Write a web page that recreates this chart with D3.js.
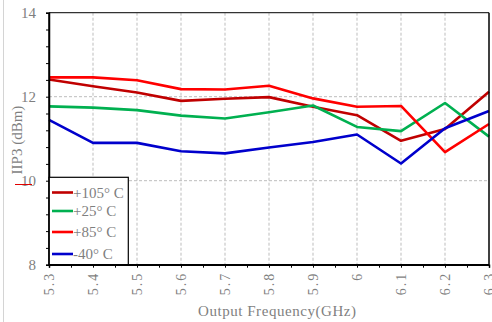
<!DOCTYPE html>
<html><head><meta charset="utf-8">
<script src="https://cdn.jsdelivr.net/npm/d3@7"></script>
<style>body{margin:0;background:#fff}svg{display:block}</style>
</head><body>
<script>
const freqs = [5.3,5.4,5.5,5.6,5.7,5.8,5.9,6.0,6.1,6.2,6.3];
const xTickLabels = ["5.3","5.4","5.5","5.6","5.7","5.8","5.9","6","6.1","6.2","6.3"];
const yTicks = [8,10,12,14];
const seriesNames = ["+105° C","+25° C","+85° C","-40° C"];
const seriesColors = ["#c00000","#00b050","#ff0000","#0000cc"];
const s105 = [12.41,12.25,12.10,11.90,11.95,11.99,11.76,11.56,10.95,11.23,12.12];
const s25  = [11.77,11.74,11.68,11.55,11.48,11.63,11.79,11.28,11.18,11.85,11.05];
const s85  = [12.46,12.46,12.39,12.18,12.17,12.26,11.96,11.76,11.78,10.68,11.35];
const sM40 = [11.45,10.90,10.90,10.70,10.65,10.79,10.92,11.10,10.41,11.25,11.66];
const seriesData = [s105,s25,s85,sM40];

const W=492,H=322;
const L=49,R=489,T=12.7,B=264.7;
const svg=d3.select("body").append("svg").attr("width",W).attr("height",H);
const x=d3.scaleLinear().domain([5.3,6.3]).range([L,R]);
const y=d3.scaleLinear().domain([8,14]).range([B,T]);
const font="'Liberation Serif','DejaVu Serif',serif";
const grey="#7f7f7f";

// outer frame line
svg.append("line").attr("x1",3.5).attr("x2",3.5).attr("y1",0).attr("y2",H).attr("stroke","#d4d4d4");

// grid
svg.append("g").selectAll("line").data(freqs.slice(1,-1)).join("line")
  .attr("x1",d=>x(d)).attr("x2",d=>x(d)).attr("y1",T).attr("y2",B)
  .attr("stroke","#bdbdbd").attr("stroke-dasharray","3,2");
svg.append("g").selectAll("line").data([10,12]).join("line")
  .attr("x1",L).attr("x2",R).attr("y1",d=>y(d)).attr("y2",d=>y(d))
  .attr("stroke","#bdbdbd").attr("stroke-dasharray","3,2");

// lines
const line=d3.line().x((d,i)=>x(freqs[i])).y(d=>y(d));
seriesData.forEach((s,k)=>{
  svg.append("path").datum(s).attr("d",line).attr("fill","none")
    .attr("stroke",seriesColors[k]).attr("stroke-width",2.6).attr("stroke-linejoin","round");
});

// frame top/right
svg.append("line").attr("x1",L).attr("x2",R).attr("y1",T).attr("y2",T).attr("stroke","#333").attr("stroke-width",1.3);
svg.append("line").attr("x1",R).attr("x2",R).attr("y1",T).attr("y2",B).attr("stroke","#000").attr("stroke-width",1.5);

// axes
const yAxis=d3.axisLeft(y).tickValues(d3.range(8,14.001,0.4)).tickSize(3).tickFormat("");
const gy=svg.append("g").attr("transform",`translate(${L},0)`).call(yAxis);
const xAxis=d3.axisBottom(x).tickValues(d3.range(5.3,6.3001,0.05)).tickSize(3).tickFormat("");
const gx=svg.append("g").attr("transform",`translate(0,${B})`).call(xAxis);
[gx,gy].forEach(g=>{g.selectAll("path").attr("stroke","#000").attr("stroke-width",1.5);g.selectAll("line").attr("stroke","#000");});

// y labels
svg.append("g").selectAll("text").data(yTicks).join("text")
  .attr("x",36).attr("y",d=>y(d)).attr("dy","0.35em").attr("text-anchor","end")
  .attr("font-family",font).attr("font-size",15).attr("fill",grey).text(d=>d);

// x labels rotated
svg.append("g").selectAll("text").data(freqs).join("text")
  .attr("transform",(d,i)=>`translate(${x(d)},${B+7}) rotate(-90)`)
  .attr("dy","0.35em").attr("text-anchor","end").attr("letter-spacing","2px")
  .attr("font-family",font).attr("font-size",14).attr("fill",grey)
  .text((d,i)=>xTickLabels[i]);

// axis titles
svg.append("text").attr("x",277).attr("y",316).attr("text-anchor","middle")
  .attr("font-family",font).attr("font-size",15).attr("fill",grey)
  .attr("textLength",158).attr("lengthAdjust","spacing").text("Output Frequency(GHz)");
svg.append("text").attr("transform","translate(22,140) rotate(-90)").attr("text-anchor","middle")
  .attr("font-family",font).attr("font-size",15).attr("fill",grey).text("IIP3 (dBm)");
svg.append("line").attr("x1",15).attr("x2",32).attr("y1",184.5).attr("y2",184.5).attr("stroke","#e00000").attr("stroke-width",1);

// legend
const lg=svg.append("g");
lg.append("rect").attr("x",L).attr("y",177.3).attr("width",128.3-L).attr("height",B-177.3)
  .attr("fill","#fff").attr("stroke","#000").attr("stroke-width",1.2);
const ly=[192.5,211,232,254];
seriesNames.forEach((n,k)=>{
  lg.append("line").attr("x1",52).attr("x2",73).attr("y1",ly[k]).attr("y2",ly[k])
    .attr("stroke",seriesColors[k]).attr("stroke-width",2.6);
  lg.append("text").attr("x",73).attr("y",ly[k]).attr("dy","0.35em")
    .attr("font-family",font).attr("font-size",15).attr("fill",grey).text(n);
});
// redraw left/bottom axis line above legend
svg.append("line").attr("x1",L).attr("x2",L).attr("y1",T).attr("y2",B).attr("stroke","#000").attr("stroke-width",1.5);
svg.append("line").attr("x1",L).attr("x2",R).attr("y1",B).attr("y2",B).attr("stroke","#000").attr("stroke-width",1.5);
</script>
</body></html>
